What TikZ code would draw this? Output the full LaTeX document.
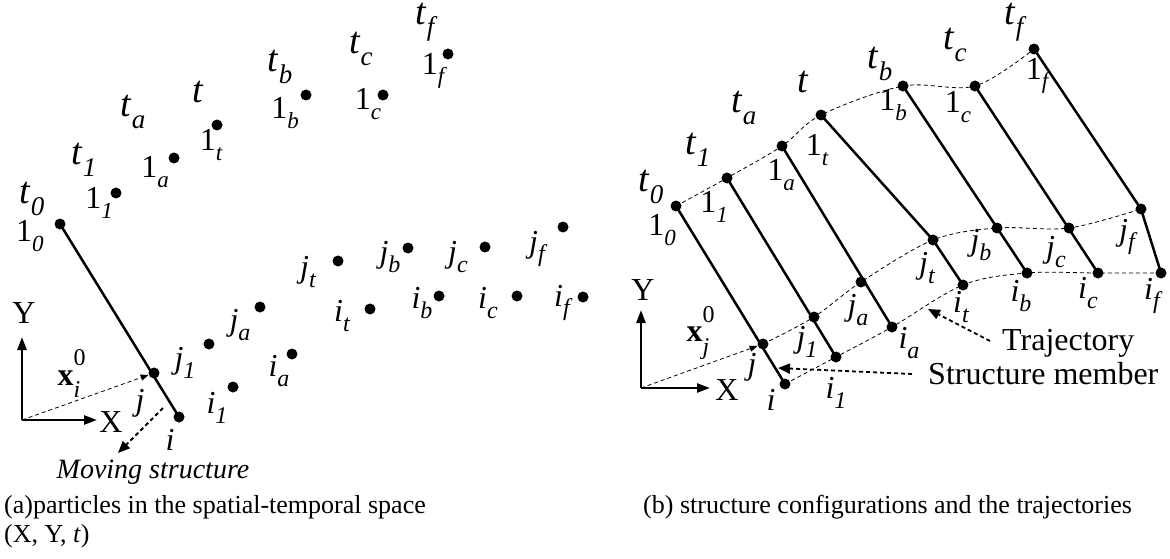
\documentclass[tikz,border=0pt]{standalone}
\usepackage{fontspec}
\setmainfont{Liberation Serif}
\usetikzlibrary{arrows.meta}
\newcommand{\Sb}[2]{\raisebox{-0.3em}{\fontsize{#1}{#1}\selectfont\itshape #2}}
\newcommand{\Ssz}{\fontsize{24}{24}\selectfont}
\newcommand{\Tl}[1]{\textit{t}\Sb{27}{#1}}
\newcommand{\Ol}[1]{1\Sb{23}{#1}}
\newcommand{\Jl}[1]{\textit{j}\Sb{24}{#1}}
\newcommand{\Il}[1]{\textit{i}\Sb{24}{#1}}
\newcommand{\Xvec}[1]{\textbf{x}\makebox[0pt][l]{\raisebox{0.6em}{\Ssz 0}}\raisebox{-0.4em}{\Ssz\itshape #1}}
\tikzset{
  dot/.style={circle,fill=black,inner sep=0pt,minimum size=11pt},
  lbl/.style={inner sep=0pt,font=\fontsize{32}{36}\selectfont},
  tlbl/.style={inner sep=0pt,font=\fontsize{38}{40}\selectfont},
  olbl/.style={inner sep=0pt,font=\fontsize{32}{36}\selectfont},
  captxt/.style={inner sep=0pt,anchor=west,font=\fontsize{26}{28}\selectfont},
  member/.style={line width=2.5pt},
  traj/.style={line width=0.8pt,dash pattern=on 4pt off 3pt},
  axis/.style={line width=2.4pt,-{Triangle[length=13pt,width=9pt]}},
  callout/.style={line width=1.8pt,dash pattern=on 4pt off 3pt,-{Triangle[length=12pt,width=10pt]}},
  vec/.style={line width=0.8pt,dash pattern=on 4pt off 3pt,-{Triangle[length=8pt,width=6pt]}}
}
\begin{document}
\begin{tikzpicture}[x=1pt,y=-1pt]
\useasboundingbox (0,0) rectangle (1170,559);

% ---------------- left panel ----------------
\foreach \n/\x/\y in {L10/60/224,L11/116/193,L1a/174/158,L1t/217/125,L1b/306/95,L1c/383/95,L1f/448/54,
  Lj/154/373,Lj1/209/344,Lja/260/307,Ljt/338/261,Ljb/408/248,Ljc/485/247,Ljf/563/227,
  Li/179/417,Li1/233/387,Lia/292/354,Lit/370/309,Lib/439/296,Lic/517/296,Lif/583/297}
  \node[dot] (\n) at (\x,\y) {};

\node[tlbl] (Lt0) at (32,199) {\Tl{0}};
\node[tlbl] (Lt1) at (84,160) {\Tl{1}};
\node[tlbl] (Lta) at (133,112) {\Tl{a}};
\node[tlbl] (Ltt) at (198,92) {\textit{t}};
\node[tlbl] (Ltb) at (280,67) {\Tl{b}};
\node[tlbl] (Ltc) at (361,49) {\Tl{c}};
\node[tlbl] (Ltf) at (425,22) {\Tl{f}};

\node[olbl] (Ll10) at (30,236) {\Ol{0}};
\node[olbl] (Ll11) at (99,203) {\Ol{1}};
\node[olbl] (Ll1a) at (155,172) {\Ol{a}};
\node[olbl] (Ll1t) at (211,145) {\Ol{t}};
\node[olbl] (Ll1b) at (285,113) {\Ol{b}};
\node[olbl] (Ll1c) at (368,104) {\Ol{c}};
\node[olbl] (Ll1f) at (433,71) {\Ol{f}};

\node[lbl] (Llj)  at (140,403) {\textit{j}};
\node[lbl] (Llj1) at (185,363) {\Jl{1}};
\node[lbl] (Llja) at (240,325) {\Jl{a}};
\node[lbl] (Lljt) at (308,272) {\Jl{t}};
\node[lbl] (Lljb) at (390,257) {\Jl{b}};
\node[lbl] (Lljc) at (458,257) {\Jl{c}};
\node[lbl] (Lljf) at (537,249) {\Jl{f}};

\node[lbl] (Lli)  at (170,440) {\textit{i}};
\node[lbl] (Lli1) at (217,408) {\Il{1}};
\node[lbl] (Llia) at (279,371) {\Il{a}};
\node[lbl] (Llit) at (342,316) {\Il{t}};
\node[lbl] (Llib) at (422,303) {\Il{b}};
\node[lbl] (Llic) at (488,303) {\Il{c}};
\node[lbl] (Llif) at (562,303) {\Il{f}};

\draw[member] (L10.center) -- (Li.center);

\coordinate (LO) at (22,420);
\coordinate (LYt) at (22,337);
\coordinate (LXt) at (97,420);
\draw[axis] (LO) -- (LYt);
\draw[axis] (LO) -- (LXt);
\node[lbl] (LY) at (24,313) {Y};
\node[lbl] (LX) at (111,422) {X};
\node[lbl] (Lx0) at (69,374) {\Xvec{i}};
\draw[vec] (LO) -- (Lj);

\coordinate (LMs) at (163,408);
\coordinate (LMe) at (118,453);
\draw[callout] (LMs) -- (LMe);
\node[inner sep=0pt,font=\fontsize{28}{30}\selectfont\itshape] (Lmov) at (153,472) {Moving structure};

% ---------------- right panel ----------------
\foreach \n/\x/\y in {R10/676/206,R11/727/178,R1a/782/146,R1t/821/115,R1b/903/86,R1c/975/86,R1f/1034/49,
  Rj/763/344,Rj1/814/317,Rja/861/282,Rjt/933/240,Rjb/997/228,Rjc/1069/228,Rjf/1141/209,
  Ri/785/384,Ri1/836/357,Ria/892/327,Rit/963/285,Rib/1027/273,Ric/1098/273,Rif/1161/273}
  \node[dot] (\n) at (\x,\y) {};

\draw[traj] plot[smooth,tension=0.55] coordinates {(R10) (R11) (R1a) (R1t) (R1b) (R1c) (R1f)};
\draw[traj] plot[smooth,tension=0.55] coordinates {(Rj) (Rj1) (Rja) (Rjt) (Rjb) (Rjc) (Rjf)};
\draw[traj] plot[smooth,tension=0.55] coordinates {(Ri) (Ri1) (Ria) (Rit) (Rib) (Ric) (Rif)};

\draw[member] (R10.center) -- (Ri.center);
\draw[member] (R11.center) -- (Ri1.center);
\draw[member] (R1a.center) -- (Ria.center);
\draw[member] (R1t.center) -- (Rjt.center) -- (Rit.center);
\draw[member] (R1b.center) -- (Rib.center);
\draw[member] (R1c.center) -- (Ric.center);
\draw[member] (R1f.center) -- (Rjf.center) -- (Rif.center);

\node[tlbl] (Rt0) at (651,187) {\Tl{0}};
\node[tlbl] (Rt1) at (698,150) {\Tl{1}};
\node[tlbl] (Rta) at (744,108) {\Tl{a}};
\node[tlbl] (Rtt) at (803,82) {\textit{t}};
\node[tlbl] (Rtb) at (880,64) {\Tl{b}};
\node[tlbl] (Rtc) at (955,45) {\Tl{c}};
\node[tlbl] (Rtf) at (1014,22) {\Tl{f}};

\node[olbl] (Rl10) at (662,230) {\Ol{0}};
\node[olbl] (Rl11) at (714,207) {\Ol{1}};
\node[olbl] (Rl1a) at (781,175) {\Ol{a}};
\node[olbl] (Rl1t) at (817,150) {\Ol{t}};
\node[olbl] (Rl1b) at (893,105) {\Ol{b}};
\node[olbl] (Rl1c) at (958,107) {\Ol{c}};
\node[olbl] (Rl1f) at (1037,76) {\Ol{f}};

\node[lbl] (Rlj)  at (752,367) {\textit{j}};
\node[lbl] (Rlj1) at (807,342) {\Jl{1}};
\node[lbl] (Rlja) at (858,310) {\Jl{a}};
\node[lbl] (Rljt) at (927,268) {\Jl{t}};
\node[lbl] (Rljb) at (981,245) {\Jl{b}};
\node[lbl] (Rljc) at (1056,252) {\Jl{c}};
\node[lbl] (Rljf) at (1127,237) {\Jl{f}};

\node[lbl] (Rli)  at (771,400) {\textit{i}};
\node[lbl] (Rli1) at (836,393) {\Il{1}};
\node[lbl] (Rlia) at (909,343) {\Il{a}};
\node[lbl] (Rlit) at (961,307) {\Il{t}};
\node[lbl] (Rlib) at (1021,296) {\Il{b}};
\node[lbl] (Rlic) at (1088,293) {\Il{c}};
\node[lbl] (Rlif) at (1152,296) {\Il{f}};

\coordinate (RO) at (641,388);
\coordinate (RYt) at (641,310);
\coordinate (RXt) at (710,388);
\draw[axis] (RO) -- (RYt);
\draw[axis] (RO) -- (RXt);
\node[lbl] (RY) at (643,290) {Y};
\node[lbl] (RX) at (727,390) {X};
\node[lbl] (Rx0) at (698,333) {\Xvec{j}};
\draw[vec] (RO) -- (Rj);

\node[lbl,anchor=west] (Rtraj) at (1002,343) {Trajectory};
\node[lbl,anchor=west] (Rstruct) at (928,374) {Structure member};
\coordinate (RTtip) at (928,309);
\coordinate (RStip) at (778,368);
\draw[callout] ([xshift=-12pt,yshift=2pt]Rtraj.west) -- (RTtip);
\draw[callout] ([xshift=-16pt]Rstruct.west) -- (RStip);

% ---------------- captions ----------------
\node[captxt] (capa) at (4,507) {(a)particles in the spatial-temporal space};
\node[captxt] (capa2) at (4,536) {(X, Y, \textit{t})};
\node[captxt] (capb) at (643,507) {(b) structure configurations and the trajectories};
\end{tikzpicture}
\end{document}
